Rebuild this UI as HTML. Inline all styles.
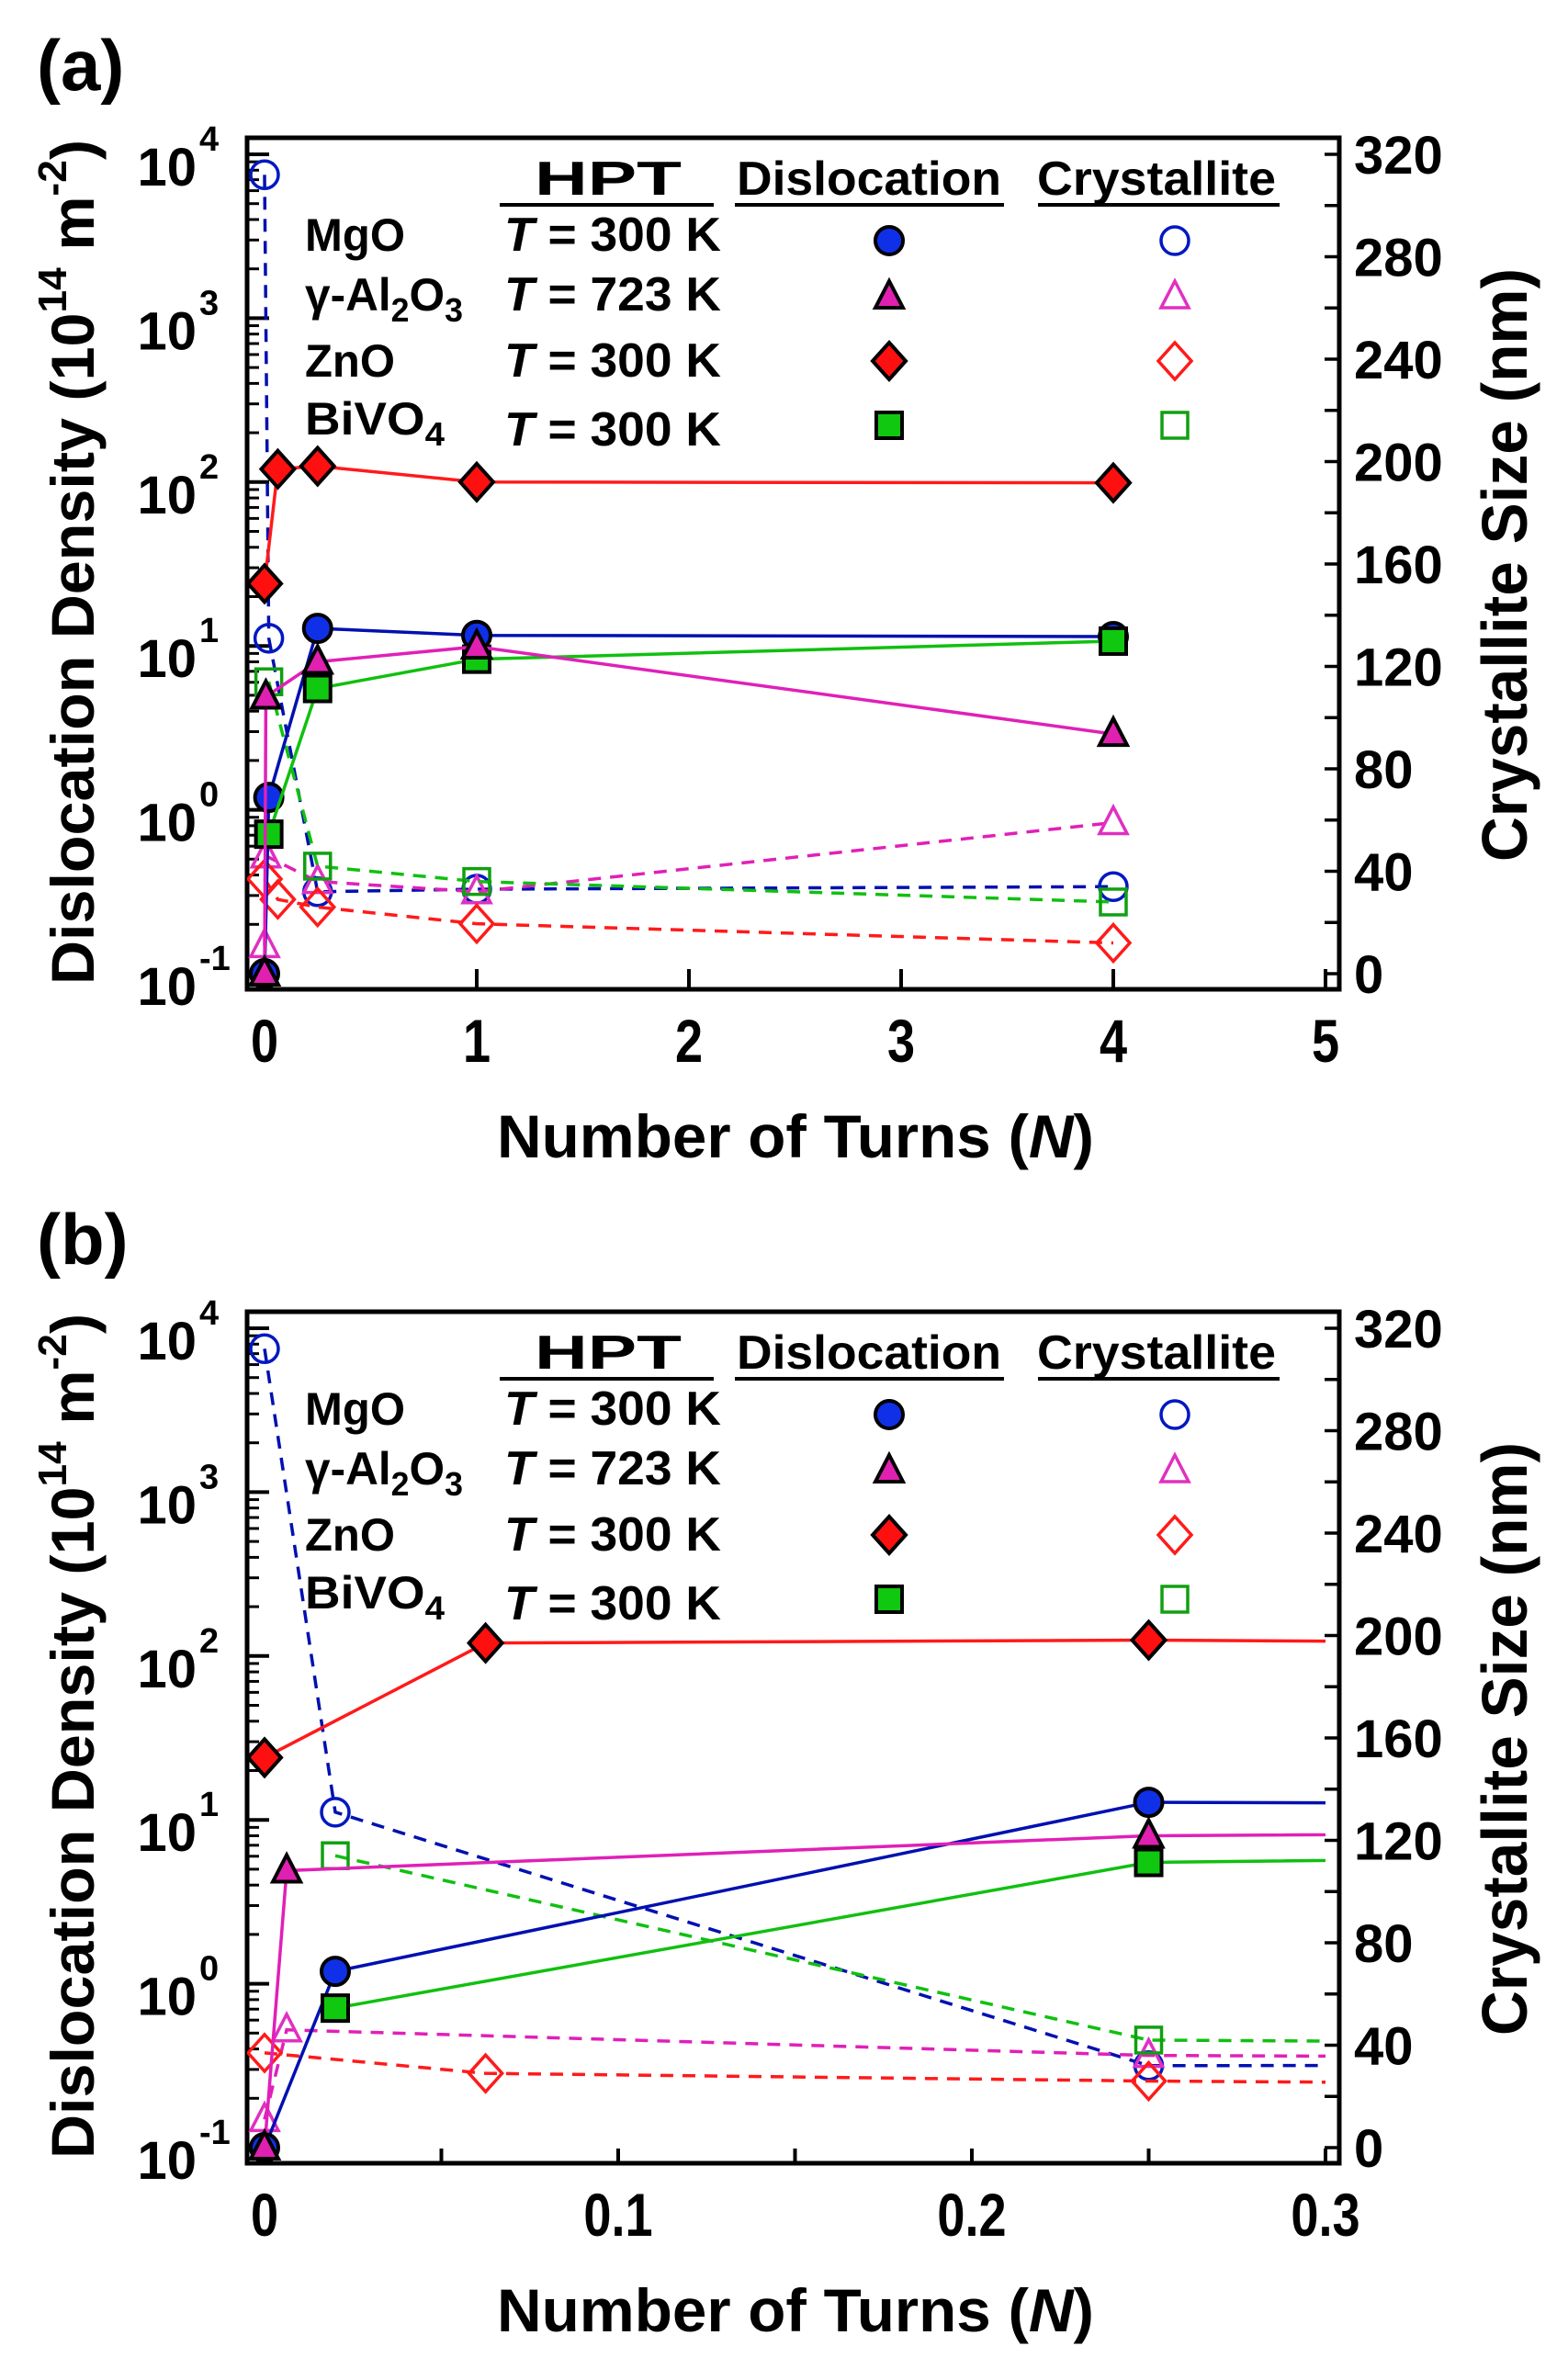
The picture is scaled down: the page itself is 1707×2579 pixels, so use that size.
<!DOCTYPE html>
<html><head><meta charset="utf-8">
<style>
html,body{margin:0;padding:0;background:#fff;}
svg{display:block;font-family:"Liberation Sans",Arial,sans-serif;font-weight:bold;}
</style></head>
<body>
<svg id="fig" width="1707" height="2579" viewBox="0 0 1707 2579" xmlns="http://www.w3.org/2000/svg"></svg>
<script>
// ---------- DATA ----------
// Panel (a) x values (number of turns)
const mgoDisX = [0, 0.02, 0.25, 1, 4];
const mgoDisY = [0.1, 1.19, 12.8, 11.6, 11.4];
const mgoCryX = [0, 0.02, 0.25, 1, 4];
const mgoCryY = [312, 131, 32, 33, 34];

const alDisX = [0, 0.00625, 0.25, 1, 4];
const alDisY = [0.1, 4.9, 8, 9.9, 2.9];
const alCryX = [0, 0.00625, 0.25, 1, 4];
const alCryY = [11, 46, 36, 32, 59];

const znoDisX = [0, 0.0625, 0.25, 1, 4];
const znoDisY = [24, 120, 125, 100, 99];
const znoCryX = [0, 0.0625, 0.25, 1, 4];
const znoCryY = [37, 29, 26, 19.5, 12];

const biDisX = [0.02, 0.25, 1, 4];
const biDisY = [0.71, 5.5, 8.3, 10.7];
const biCryX = [0.02, 0.25, 1, 4];
const biCryY = [114, 42, 36, 28];

const leftExps = [-1, 0, 1, 2, 3, 4];
const rightTicks = [0, 40, 80, 120, 160, 200, 240, 280, 320];
const xTicksA = [0, 1, 2, 3, 4, 5];
const xLabelsA = ["0", "1", "2", "3", "4", "5"];
const xTicksB = [0, 0.05, 0.1, 0.15, 0.2, 0.25, 0.3];
const xLabelsB = ["0", "", "0.1", "", "0.2", "", "0.3"];

// ---------- DRAWING ----------
const NS = "http://www.w3.org/2000/svg";
const svg = document.getElementById("fig");
function mk(tag, attrs, parent) {
  const e = document.createElementNS(NS, tag);
  for (const k in attrs) e.setAttribute(k, attrs[k]);
  (parent || svg).appendChild(e);
  return e;
}
const BOX_L = 269, BOX_R = 1458, X0 = 288, XEND = 1443;
const COLORS = {
  mgo: {line: "#0010b0", fill: "#1030e8", open: "#0018c0"},
  al: {line: "#e020b8", fill: "#e020b0", open: "#e030c0"},
  zno: {line: "#ff1a1a", fill: "#ff1010", open: "#ff1a1a"},
  bi: {line: "#10c010", fill: "#10c810", open: "#10a010"}
};

function marker(g, shape, cx, cy, fill, stroke, sw) {
  let e;
  if (shape === "circle") e = mk("ellipse", {cx: cx, cy: cy, rx: 15, ry: 15}, g);
  else if (shape === "tri") e = mk("polygon", {points: `${cx},${cy-17} ${cx+15},${cy+12} ${cx-15},${cy+12}`}, g);
  else if (shape === "diamond") e = mk("polygon", {points: `${cx},${cy-20} ${cx+18},${cy} ${cx},${cy+20} ${cx-18},${cy}`}, g);
  else e = mk("rect", {x: cx-14, y: cy-14, width: 28, height: 28}, g);
  e.setAttribute("fill", fill);
  e.setAttribute("stroke", stroke);
  e.setAttribute("stroke-width", sw);
  return e;
}

function panel(id, oy, xmax, xTicks, xLabels, tickLen, letter) {
  const top = 150 + oy, bot = 1077 + oy;
  const yDec0 = 168 + oy; // 10^4
  const dec = 178.4;
  const xs = v => X0 + v / xmax * (XEND - X0);
  const yl = v => yDec0 + (4 - Math.log10(v)) * dec;
  const yr = v => (1060 + oy) - v * 2.7875;

  const g = mk("g", {});
  
  

  const lab = mk("text", {x: 40, y: 98 + oy, "font-size": 78}, g);
  lab.textContent = "(" + letter + ")";
  
  

  const clipId = "clip" + id;
  const cp = mk("clipPath", {id: clipId}, g);
  mk("rect", {x: BOX_L, y: top, width: xs(xmax) - BOX_L, height: bot - top}, cp);

  // axes box
  const box = mk("rect", {x: BOX_L, y: top, width: BOX_R - BOX_L, height: bot - top, fill: "none", stroke: "#000", "stroke-width": 5}, g);
  
  

  // left log ticks
  for (let i = 0; i < leftExps.length; i++) {
    const ex = leftExps[i];
    const y = yl(Math.pow(10, ex));
    mk("line", {x1: BOX_L, x2: BOX_L + 24, y1: y, y2: y, stroke: "#000", "stroke-width": 4}, g);
    const t = mk("text", {x: 214, y: y + 34, "font-size": 58, "text-anchor": "end"}, g);
    t.textContent = "10";
    
    
    const s = mk("text", {x: 217, y: y - 4, "font-size": 38}, g);
    s.textContent = String(ex);
    if (ex < 4) {
      for (let m = 2; m <= 9; m++) {
        const ym = yl(m * Math.pow(10, ex));
        mk("line", {x1: BOX_L, x2: BOX_L + 13, y1: ym, y2: ym, stroke: "#000", "stroke-width": 3}, g);
      }
    }
  }
  // right ticks
  for (let i = 0; i < rightTicks.length; i++) {
    const v = rightTicks[i];
    const y = yr(v);
    mk("line", {x1: BOX_R - 16, x2: BOX_R, y1: y, y2: y, stroke: "#000", "stroke-width": 3.5}, g);
    if (v < 320) {
      const ym = yr(v + 20);
      mk("line", {x1: BOX_R - 16, x2: BOX_R, y1: ym, y2: ym, stroke: "#000", "stroke-width": 3.5}, g);
    }
    const t = mk("text", {x: 1474, y: y + 21, "font-size": 58}, g);
    t.textContent = String(v);
    
    
  }
  // x ticks
  for (let i = 0; i < xTicks.length; i++) {
    const x = xs(xTicks[i]);
    mk("line", {x1: x, x2: x, y1: bot, y2: bot - tickLen, stroke: "#000", "stroke-width": 4}, g);
    if (xLabels[i]) {
      const t = mk("text", {x: x, y: 1156 + oy, "font-size": 66, "text-anchor": "middle", transform: `translate(${x},0) scale(0.82,1) translate(${-x},0)`}, g);
      t.textContent = xLabels[i];
      
      
    }
  }
  // axis titles
  const xt = mk("text", {x: 866, y: 1260 + oy, "font-size": 66, "text-anchor": "middle", textLength: 650, lengthAdjust: "spacingAndGlyphs"}, g);
  xt.innerHTML = 'Number of Turns (<tspan font-style="italic">N</tspan>)';
  
  

  const ylt = mk("text", {x: 0, y: 0, "font-size": 66, "text-anchor": "middle", textLength: 920, lengthAdjust: "spacingAndGlyphs", transform: `translate(102,${612 + oy}) rotate(-90)`}, g);
  ylt.innerHTML = 'Dislocation Density (10<tspan dy="-30" font-size="44">14</tspan><tspan dy="30"> m</tspan><tspan dy="-30" font-size="44">-2</tspan><tspan dy="30">)</tspan>';
  
  

  const yrt = mk("text", {x: 0, y: 0, "font-size": 70, "text-anchor": "middle", textLength: 646, lengthAdjust: "spacingAndGlyphs", transform: `translate(1662,${615 + oy}) rotate(-90)`}, g);
  yrt.textContent = "Crystallite Size (nm)";
  
  

  // legend
  const L = mk("g", {}, g);
  
  
  const hdr = [["HPT", 662, 160], ["Dislocation", 946, 288], ["Crystallite", 1259, 260]];
  hdr.forEach(h => {
    const t = mk("text", {x: h[1], y: 212 + oy, "font-size": 52, "text-anchor": "middle", textLength: h[2], lengthAdjust: "spacingAndGlyphs"}, L);
    t.textContent = h[0];
    
    
  });
  [[544, 777], [800, 1093], [1130, 1393]].forEach(u => mk("line", {x1: u[0], x2: u[1], y1: 223 + oy, y2: 223 + oy, stroke: "#000", "stroke-width": 4}, L));
  const rows = [
    ["MgO", "300", "circle", "mgo", 273, 262, 109],
    ["γ-Al<tspan dy='12' font-size='36'>2</tspan><tspan dy='-12'>O</tspan><tspan dy='12' font-size='36'>3</tspan>", "723", "tri", "al", 338, 323, 172],
    ["ZnO", "300", "diamond", "zno", 410, 393, 98],
    ["BiVO<tspan dy='12' font-size='36'>4</tspan>", "300", "square", "bi", 473, 463, 152]
  ];
  rows.forEach(r => {
    const n = mk("text", {x: 332, y: r[4] + oy, "font-size": 50, textLength: r[6], lengthAdjust: "spacingAndGlyphs"}, L);
    n.innerHTML = r[0];
    
    
    const t = mk("text", {x: 549, y: (r[3] === "bi" ? 485 : r[4]) + oy, "font-size": 52, textLength: 236, lengthAdjust: "spacingAndGlyphs"}, L);
    t.innerHTML = '<tspan font-style="italic">T</tspan> = ' + r[1] + ' K';
    const c = COLORS[r[3]];
    marker(L, r[2], 968, r[5] + oy, c.fill, "#000", 4);
    marker(L, r[2], 1279, r[5] + oy, "none", c.open, 3.5);
  });

  // series
  const data = g.appendChild(document.createElementNS(NS, "g"));
  data.setAttribute("clip-path", `url(#${clipId})`);
  
  
  const series = [
    ["mgo-crystallite", mgoCryX, mgoCryY, "mgo", "circle", false],
    ["al2o3-crystallite", alCryX, alCryY, "al", "tri", false],
    ["zno-crystallite", znoCryX, znoCryY, "zno", "diamond", false],
    ["bivo4-crystallite", biCryX, biCryY, "bi", "square", false],
    ["zno-dislocation", znoDisX, znoDisY, "zno", "diamond", true],
    ["mgo-dislocation", mgoDisX, mgoDisY, "mgo", "circle", true],
    ["bivo4-dislocation", biDisX, biDisY, "bi", "square", true],
    ["al2o3-dislocation", alDisX, alDisY, "al", "tri", true]
  ];
  series.forEach(s => {
    const [name, X, Y, col, shape, dis] = s;
    const c = COLORS[col];
    const fy = dis ? yl : yr;
    const pts = X.map((x, i) => xs(x) + "," + fy(Y[i])).join(" ");
    const pl = mk("polyline", {points: pts, fill: "none", stroke: c.line, "stroke-width": 3.5, "stroke-dasharray": dis ? "none" : "14 10"}, data);
    
    
    X.forEach((x, i) => {
      const m = dis ? marker(data, shape, xs(x), fy(Y[i]), c.fill, "#000", 4)
                    : marker(data, shape, xs(x), fy(Y[i]), "none", c.open, 3.5);
      
      
    });
  });
}
panel("a", 0, 5, xTicksA, xLabelsA, 22, "a");
panel("b", 1278, 0.3, xTicksB, xLabelsB, 16, "b");
</script>
</body></html>
